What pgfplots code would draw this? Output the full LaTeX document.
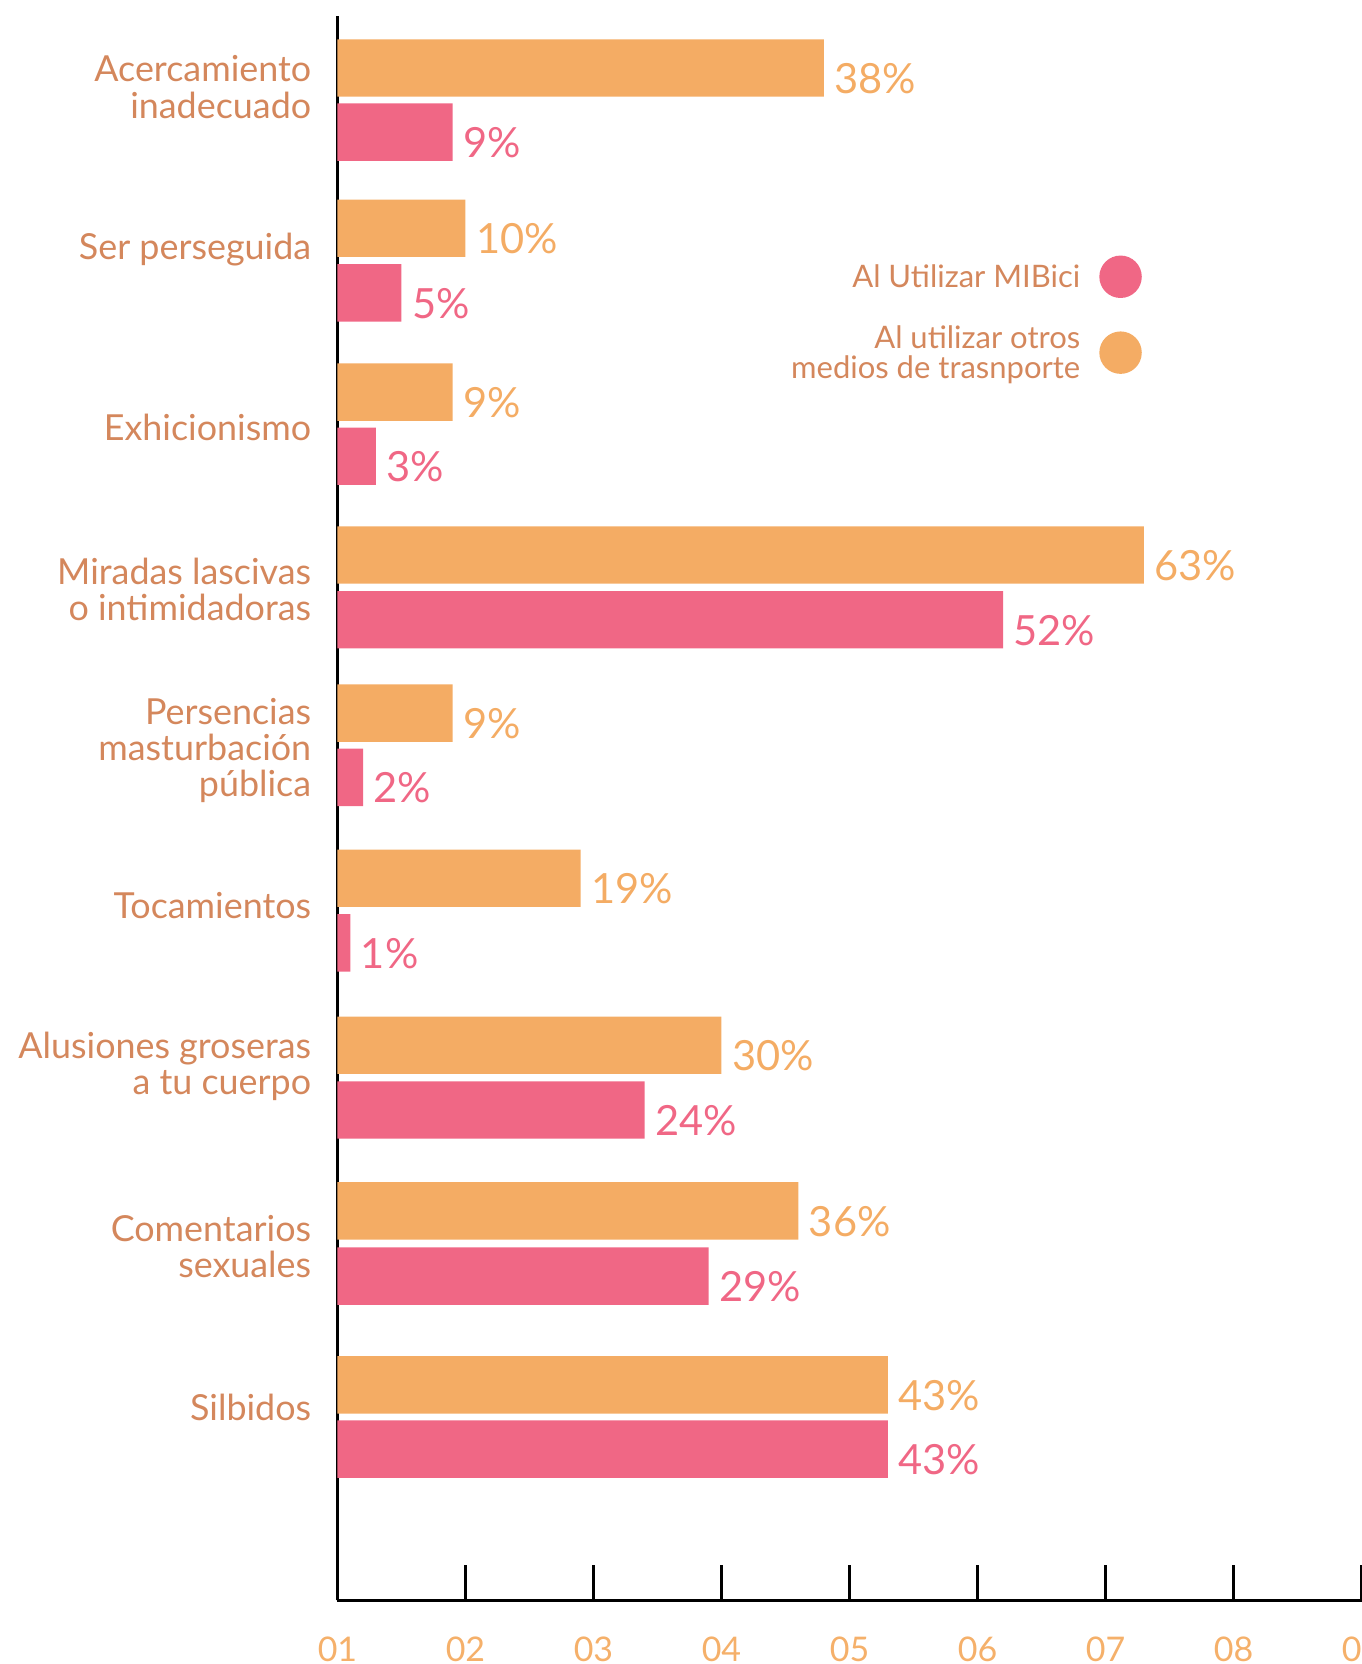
\documentclass[border=0pt]{standalone}
\usepackage{pgfplots}
\pgfplotsset{compat=1.18}
\usepackage{fontspec}
\setmainfont{Lato}
\usetikzlibrary{calc}

\definecolor{barorange}{HTML}{F4AC64}
\definecolor{barpink}{HTML}{F06785}
\definecolor{labelbrown}{HTML}{D4875C}
\definecolor{tickorange}{HTML}{F5B06A}

% y positions are in picture units, counted up from the x axis
% orange = otros medios, pink = MIBici
\pgfplotstableread{
val pos
38 1444
10 1293
9  1138.5
63 985
9  836
19 680.5
30 523
36 367
43 203
}\otros
\pgfplotstableread{
val pos
9  1383.5
5  1232
3  1078
52 924
2  775.5
1  619.5
24 462
29 305.5
43 142.5
}\mibici

\begin{document}
\begin{tikzpicture}
\begin{axis}[
    name=ax,
    scale only axis,
    width=241.25pt, height=373.25pt,
    xmin=0, xmax=80, ymin=0, ymax=1493,
    clip=false,
    /pgf/number format/assume math mode=true,
    axis x line=bottom, axis y line=left,
    axis line style={-, black, line width=0.8pt},
    xtick={0,10,...,80},
    xticklabels={01,02,03,04,05,06,07,08,09},
    tick align=inside,
    major tick length=8.25pt,
    x tick style={black, line width=0.55pt},
    xticklabel style={font=\fontsize{8}{8}\selectfont, text=tickorange, yshift=-5pt},
    ytick={1426,1273,1105,953,801,655,503,333,182},
    yticklabels={Acercamiento\\inadecuado, Ser perseguida, Exhicionismo,
        Miradas lascivas\\o intimidadoras, Persencias\\masturbación\\pública,
        Tocamientos, Alusiones groseras\\a tu cuerpo, Comentarios\\sexuales, Silbidos},
    y tick style={draw=none},
    yticklabel style={font=\fontsize{8.45}{8.5}\selectfont, text=labelbrown,
        align=right, inner sep=0pt, xshift=2.25pt},
    xbar, bar shift=0pt, bar width=54,
    point meta=x,
    nodes near coords={\pgfmathprintnumber{\pgfplotspointmeta}\%},
    nodes near coords style={font=\fontsize{9.8}{9.8}\selectfont, anchor=west,
        inner sep=0pt, xshift=2.3pt, yshift=-2.5pt},
    legend plot pos=right,
    legend cell align=right,
    legend image code/.code={\fill (0pt,0.6pt) circle (5pt);},
    legend style={draw=none, fill=none, at={(axis cs:62.9,1268)}, anchor=north east,
        font=\fontsize{7.3}{7}\selectfont, text=labelbrown,
        nodes={align=right, inner sep=2pt}, row sep=3.5pt, column sep=2.5pt, inner sep=0pt},
]
\addplot[fill=barpink, draw=none, nodes near coords style={text=barpink}]
    table[x=val, y=pos] {\mibici};
\addlegendentry{Al Utilizar MIBici}
\addplot[fill=barorange, draw=none, nodes near coords style={text=barorange}]
    table[x=val, y=pos] {\otros};
\addlegendentry{Al utilizar otros\\medios de trasnporte}
\end{axis}
\pgfresetboundingbox
\path[use as bounding box] ($(ax.south west)+(-79.5pt,-15pt)$) rectangle ($(ax.north east)+(0pt,3.75pt)$);
\end{tikzpicture}
\end{document}
